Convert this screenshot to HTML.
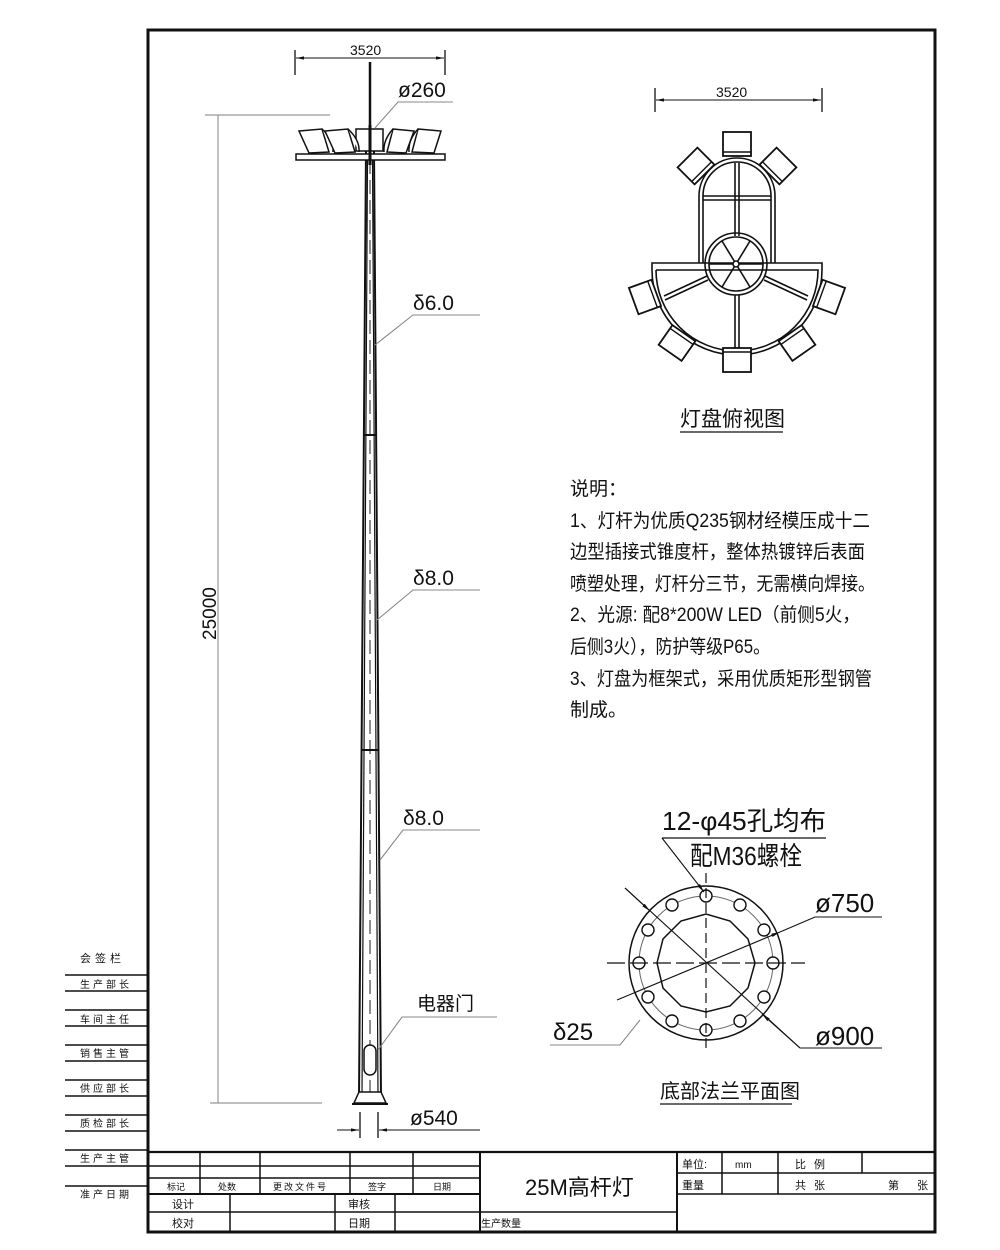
<!DOCTYPE html>
<html><head><meta charset="utf-8"><style>
html,body{margin:0;padding:0;background:#fff}
svg{display:block}
text{font-family:"Liberation Sans","Noto Sans CJK SC",sans-serif;fill:#111}
</style></head><body>
<svg width="1000" height="1250" viewBox="0 0 1000 1250" xmlns="http://www.w3.org/2000/svg">
<defs>
<marker id="ar" viewBox="0 0 10 10" refX="10" refY="5" markerWidth="8" markerHeight="8" orient="auto-start-reverse"><path d="M0,3 L10,5 L0,7 z" fill="#111"/></marker>
<g id="lamp"><rect x="-14" y="-12" width="28" height="24" fill="#fff" stroke="#111" stroke-width="1.8"/><line x1="-14" y1="8" x2="14" y2="8" stroke="#111" stroke-width="1.4"/></g>
</defs>
<g fill="none" stroke="#111">
<rect x="148" y="30" width="787" height="1202" stroke-width="3"/>
<g stroke-width="1.6">
<line x1="65" y1="975" x2="148" y2="975"/><line x1="65" y1="991" x2="148" y2="991"/>
<line x1="65" y1="1010" x2="148" y2="1010"/><line x1="65" y1="1026" x2="148" y2="1026"/>
<line x1="65" y1="1045" x2="148" y2="1045"/><line x1="65" y1="1061" x2="148" y2="1061"/>
<line x1="65" y1="1080" x2="148" y2="1080"/><line x1="65" y1="1096" x2="148" y2="1096"/>
<line x1="65" y1="1115" x2="148" y2="1115"/><line x1="65" y1="1131" x2="148" y2="1131"/>
<line x1="65" y1="1150" x2="148" y2="1150"/><line x1="65" y1="1166" x2="148" y2="1166"/>
<line x1="65" y1="1186" x2="148" y2="1186"/>
</g>
<g stroke-width="1.5">
<line x1="148" y1="1152" x2="935" y2="1152" stroke-width="2.2"/>
<line x1="148" y1="1166" x2="480" y2="1166"/>
<line x1="148" y1="1178" x2="480" y2="1178"/>
<line x1="148" y1="1194" x2="480" y2="1194" stroke-width="2"/>
<line x1="148" y1="1212" x2="677" y2="1212"/>
<line x1="200" y1="1152" x2="200" y2="1194"/><line x1="260" y1="1152" x2="260" y2="1194"/>
<line x1="350" y1="1152" x2="350" y2="1194"/><line x1="413" y1="1152" x2="413" y2="1194"/>
<line x1="230" y1="1194" x2="230" y2="1232"/><line x1="335" y1="1194" x2="335" y2="1232"/>
<line x1="395" y1="1194" x2="395" y2="1232"/>
<line x1="480" y1="1152" x2="480" y2="1232" stroke-width="2"/>
<line x1="677" y1="1152" x2="677" y2="1232" stroke-width="2"/>
<line x1="677" y1="1173" x2="935" y2="1173"/>
<line x1="677" y1="1194" x2="935" y2="1194"/>
<line x1="722" y1="1152" x2="722" y2="1194"/><line x1="778" y1="1152" x2="778" y2="1194"/>
<line x1="862" y1="1152" x2="862" y2="1173"/>
</g>

<g stroke="#999" stroke-width="1.2">
<line x1="205" y1="115" x2="330" y2="115"/>
<line x1="210" y1="1103" x2="322" y2="1103"/>
<line x1="218" y1="115" x2="218" y2="1103"/>
</g>
<polygon points="366,150 374,150 381,1098 359,1098" fill="#fff" stroke-width="2"/>
<line x1="367.5" y1="160" x2="362" y2="1095" stroke-width="1.2"/>
<line x1="372.5" y1="160" x2="378" y2="1095" stroke-width="1.2"/>
<line x1="370" y1="160" x2="370" y2="1095" stroke="#444" stroke-width="1.2" stroke-dasharray="14,6"/>
<line x1="364" y1="435" x2="376" y2="435" stroke-width="2"/>
<line x1="362" y1="750" x2="378" y2="750" stroke-width="2"/>
<rect x="364" y="1045" width="12" height="30" rx="6" fill="#fff" stroke-width="1.5"/>
<polygon points="359,1092 381,1092 386,1103 354,1103" fill="#fff" stroke-width="1.5"/>
<line x1="352" y1="1104" x2="388" y2="1104" stroke-width="2"/>
<line x1="370" y1="62" x2="370" y2="150" stroke-width="2.5"/>
<rect x="296" y="154" width="149" height="6" fill="#fff" stroke-width="1.5"/>
<rect x="356" y="129" width="27" height="22" fill="#fff" stroke-width="1.5"/>
<g stroke-width="1.5" fill="#fff">
<polygon points="299,131 322,129 329,152 309,153"/><path d="M322,129 Q334,140 333,152"/>
<polygon points="325,131 348,129 355,152 335,153"/><path d="M348,129 Q360,140 359,152"/>
<polygon points="393,129 414,131 406,153 387,152"/><path d="M393,129 Q383,140 384,152"/>
<polygon points="418,129 441,131 434,153 412,152"/><path d="M418,129 Q408,140 409,152"/>
</g>
<line x1="370" y1="125" x2="370" y2="165" stroke-width="3"/>
<line x1="295" y1="50" x2="295" y2="75" stroke-width="1.3"/>
<line x1="445" y1="50" x2="445" y2="75" stroke-width="1.3"/>
<line x1="296" y1="58" x2="444" y2="58" stroke-width="1" marker-start="url(#ar)" marker-end="url(#ar)"/>
<g stroke="#888" stroke-width="1.1">
<polyline points="375,128 398,102 453,102"/>
<polyline points="375,345 413,315 480,315"/>
<polyline points="377,620 413,590 480,590"/>
<polyline points="380,860 403,830 480,830"/>
<polyline points="378,1050 402,1017 497,1017"/>
</g>
<line x1="360" y1="1112" x2="360" y2="1138" stroke-width="1.3"/>
<line x1="378" y1="1112" x2="378" y2="1138" stroke-width="1.3"/>
<line x1="337" y1="1130" x2="359" y2="1130" stroke-width="1" marker-end="url(#ar)"/>
<line x1="480" y1="1130" x2="379" y2="1130" stroke-width="1" marker-end="url(#ar)"/>

<line x1="655" y1="88" x2="655" y2="112" stroke-width="1.3"/>
<line x1="822" y1="88" x2="822" y2="112" stroke-width="1.3"/>
<line x1="656" y1="100" x2="821" y2="100" stroke-width="1" marker-start="url(#ar)" marker-end="url(#ar)"/>
<g stroke-width="1.6">
<path d="M699,263 L699,196 A38,38 0 0 1 775,196 L775,263"/>
<path d="M703,263 L703,196 A34,34 0 0 1 771,196 L771,263"/>
<path d="M652,263 L822,263 L822,270 A85,85 0 0 1 652,270 Z"/>
<path d="M656,270 L818,270 A81,81 0 0 1 656,270"/>
<line x1="703" y1="196" x2="771" y2="196"/><line x1="703" y1="200" x2="771" y2="200"/>
<line x1="735" y1="163" x2="735" y2="236"/><line x1="739" y1="163" x2="739" y2="236"/>
<circle cx="736" cy="264" r="31"/><circle cx="736" cy="264" r="27"/>
<line x1="709" y1="264" x2="763" y2="264"/>
<line x1="722" y1="241" x2="750" y2="287"/><line x1="750" y1="241" x2="722" y2="287"/>
<circle cx="736" cy="264" r="3" fill="#fff"/>
<line x1="735" y1="295" x2="735" y2="352"/><line x1="739" y1="295" x2="739" y2="352"/>
<line x1="707" y1="276" x2="664" y2="296"/><line x1="708" y1="280" x2="665" y2="300"/>
<line x1="765" y1="276" x2="808" y2="296"/><line x1="764" y1="280" x2="807" y2="300"/>
</g>
<use href="#lamp" transform="translate(737,144)"/>
<use href="#lamp" transform="translate(696,166) rotate(-45)"/>
<use href="#lamp" transform="translate(778,166) rotate(45)"/>
<use href="#lamp" transform="translate(645,297) rotate(-110)"/>
<use href="#lamp" transform="translate(829,297) rotate(110)"/>
<use href="#lamp" transform="translate(677,343) rotate(-145)"/>
<use href="#lamp" transform="translate(797,343) rotate(145)"/>
<use href="#lamp" transform="translate(737,360) rotate(180)"/>
<line x1="680" y1="432" x2="783" y2="432" stroke-width="1.3"/>

<g stroke-width="1.5">
<circle cx="706" cy="963" r="77"/>
<polygon points="755,963 748,988 730,1006 706,1012 681,1006 663,988 657,963 663,939 681,921 706,914 730,921 748,939"/>
<circle cx="706" cy="963" r="67" stroke-width="1" stroke="#666"/>
</g>
<g stroke-width="1.4" fill="#fff">
<circle cx="706" cy="896" r="6"/><circle cx="740" cy="905" r="6"/><circle cx="764" cy="930" r="6"/>
<circle cx="773" cy="963" r="6"/><circle cx="764" cy="997" r="6"/><circle cx="740" cy="1021" r="6"/>
<circle cx="706" cy="1030" r="6"/><circle cx="672" cy="1021" r="6"/><circle cx="648" cy="997" r="6"/>
<circle cx="639" cy="963" r="6"/><circle cx="648" cy="930" r="6"/><circle cx="672" cy="905" r="6"/>
</g>
<line x1="706" y1="873" x2="706" y2="1052" stroke-width="1.2" stroke-dasharray="10,5"/>
<line x1="607" y1="963" x2="805" y2="963" stroke-width="1.2" stroke-dasharray="18,5"/>
<line x1="662" y1="838" x2="826" y2="838" stroke-width="1.2"/>
<line x1="662" y1="838" x2="704" y2="892" stroke-width="1.1" marker-end="url(#ar)"/>
<line x1="617" y1="1000" x2="780" y2="932" stroke-width="1.1" marker-end="url(#ar)"/>
<polyline points="780,932 815,917 882,917" stroke-width="1.1"/>
<line x1="625" y1="888" x2="800" y2="1048" stroke-width="1.1"/>
<line x1="625" y1="888" x2="650" y2="911" stroke-width="1.1" marker-end="url(#ar)"/>
<line x1="800" y1="1048" x2="762" y2="1014" stroke-width="1.1" marker-end="url(#ar)"/>
<line x1="800" y1="1048" x2="882" y2="1048" stroke-width="1.1"/>
<polyline points="550,1045 620,1045 640,1020" stroke="#888" stroke-width="1.1"/>
<line x1="660" y1="1104" x2="792" y2="1104" stroke-width="1.3"/>
</g>

<text x="350" y="55" font-size="14">3520</text>
<text x="398" y="97" font-size="21">ø260</text>
<text x="0" y="0" font-size="19" transform="translate(216,640) rotate(-90)">25000</text>
<text x="413" y="310" font-size="21">δ6.0</text>
<text x="413" y="585" font-size="21">δ8.0</text>
<text x="403" y="825" font-size="21">δ8.0</text>
<text x="417" y="1010" font-size="19">电器门</text>
<text x="410" y="1125" font-size="21">ø540</text>
<text x="716" y="97" font-size="14">3520</text>
<text x="680" y="426" font-size="21">灯盘俯视图</text>
<g font-size="19">
<text x="570" y="495">说明：</text>
<text x="570" y="527" textLength="300" lengthAdjust="spacingAndGlyphs">1、灯杆为优质Q235钢材经模压成十二</text>
<text x="570" y="558" textLength="295" lengthAdjust="spacingAndGlyphs">边型插接式锥度杆，整体热镀锌后表面</text>
<text x="570" y="590" textLength="305" lengthAdjust="spacingAndGlyphs">喷塑处理，灯杆分三节，无需横向焊接。</text>
<text x="570" y="621" textLength="290" lengthAdjust="spacingAndGlyphs">2、光源: 配8*200W LED（前侧5火，</text>
<text x="570" y="653" textLength="200" lengthAdjust="spacingAndGlyphs">后侧3火），防护等级P65。</text>
<text x="570" y="685" textLength="302" lengthAdjust="spacingAndGlyphs">3、灯盘为框架式，采用优质矩形型钢管</text>
<text x="570" y="716">制成。</text>
</g>
<text x="662" y="830" font-size="26" textLength="164" lengthAdjust="spacingAndGlyphs">12-φ45孔均布</text>
<text x="690" y="865" font-size="26" textLength="112" lengthAdjust="spacingAndGlyphs">配M36螺栓</text>
<text x="815" y="912" font-size="26">ø750</text>
<text x="815" y="1045" font-size="26">ø900</text>
<text x="553" y="1040" font-size="24">δ25</text>
<text x="660" y="1098" font-size="20">底部法兰平面图</text>

<g font-size="10">
<text x="80" y="962" font-size="11" letter-spacing="4">会签栏</text>
<text x="80" y="988" letter-spacing="3">生产部长</text>
<text x="80" y="1023" letter-spacing="3">车间主任</text>
<text x="80" y="1057" letter-spacing="3">销售主管</text>
<text x="80" y="1092" letter-spacing="3">供应部长</text>
<text x="80" y="1127" letter-spacing="3">质检部长</text>
<text x="80" y="1162" letter-spacing="3">生产主管</text>
<text x="80" y="1198" letter-spacing="3">准产日期</text>
<text x="167" y="1190" font-size="9">标记</text>
<text x="218" y="1190" font-size="9">处数</text>
<text x="273" y="1190" font-size="9" letter-spacing="2">更改文件号</text>
<text x="368" y="1190" font-size="9">签字</text>
<text x="433" y="1190" font-size="9">日期</text>
<text x="172" y="1208" font-size="11">设计</text>
<text x="172" y="1227" font-size="11">校对</text>
<text x="348" y="1208" font-size="11">审核</text>
<text x="348" y="1227" font-size="11">日期</text>
<text x="481" y="1227" font-size="10">生产数量</text>
<text x="682" y="1168" font-size="11">单位:</text>
<text x="735" y="1168" font-size="10">mm</text>
<text x="795" y="1168" font-size="11" letter-spacing="8">比例</text>
<text x="682" y="1189" font-size="11">重量</text>
<text x="795" y="1189" font-size="11" letter-spacing="8">共张</text>
<text x="888" y="1189" font-size="11" letter-spacing="18">第张</text>
</g>
<text x="525" y="1195" font-size="22">25M高杆灯</text>
</svg>
</body></html>
